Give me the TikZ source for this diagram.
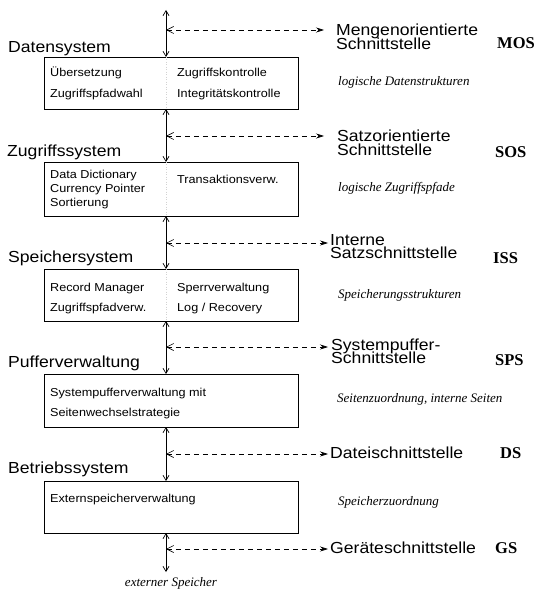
\documentclass[tikz,border=0pt]{standalone}
\usepackage{fontspec}
\setmainfont{Liberation Sans}[FakeStretch=1.1]
\newfontfamily\timesfont{Liberation Serif}
\usetikzlibrary{arrows.meta}
% two stacked lines, baseline of the node on the first line
\newcommand{\twoline}[2]{\vtop{\baselineskip=13.5pt\lineskiplimit=-20pt\hbox{#1}\hbox{#2}}}
\begin{document}
\begin{tikzpicture}[x=1pt,y=-1pt,
  layer/.style={draw, line width=0.8pt, anchor=north west, minimum width=254pt, inner sep=0pt, outer sep=0pt},
  boxtxt/.style={anchor=base west, inner sep=0pt, font=\fontsize{11.5}{13}\selectfont},
  syslabel/.style={anchor=base west, inner sep=0pt, font=\fontsize{16}{14}\selectfont},
  abbr/.style={anchor=base west, inner sep=0pt, font=\timesfont\bfseries\fontsize{16.5}{18}\selectfont},
  note/.style={anchor=base west, inner sep=0pt, font=\timesfont\itshape\fontsize{13}{15}\selectfont},
  flow/.style={line width=0.7pt, {Straight Barb[length=5pt,width=6pt]}-{Straight Barb[length=5pt,width=6pt]}},
  iface/.style={line width=0.6pt, dash pattern=on 5pt off 4pt, {Straight Barb[length=7pt,width=7pt]}-{Stealth[length=8pt,width=5pt]}},
  divider/.style={gray!35, dotted, line width=0.5pt}
]
\useasboundingbox[fill=white] (0,0) rectangle (537,593);

% axis of the layer stack
\coordinate (ax) at (166,0);

% layer boxes
\node[layer, minimum height=52pt] (b1) at (44,57) {};
\node[layer, minimum height=54pt] (b2) at (44,162) {};
\node[layer, minimum height=52pt] (b3) at (44,269) {};
\node[layer, minimum height=53pt] (b4) at (44,374) {};
\node[layer, minimum height=52pt] (b5) at (44,481) {};

% faint column dividers
\draw[divider] (b1.north -| ax) -- (b1.south -| ax);
\draw[divider] (b2.north -| ax) -- (b2.south -| ax);
\draw[divider] (b3.north -| ax) -- (b3.south -| ax);

% layer names
\node[syslabel] (n1) at (8,53) {Datensystem};
\node[syslabel] (n2) at (7,157) {Zugriffssystem};
\node[syslabel] (n3) at (8,262) {Speichersystem};
\node[syslabel] (n4) at (8,367) {Pufferverwaltung};
\node[syslabel] (n5) at (8,473) {Betriebssystem};

% box contents
\node[boxtxt] (t11) at (50,77) {Übersetzung};
\node[boxtxt] (t12) at (50,98) {Zugriffspfadwahl};
\node[boxtxt] (t13) at (177,77) {Zugriffskontrolle};
\node[boxtxt] (t14) at (177,98) {Integritätskontrolle};

\node[boxtxt] (t21) at (50,179) {Data Dictionary};
\node[boxtxt] (t22) at (50,193) {Currency Pointer};
\node[boxtxt] (t23) at (50,207) {Sortierung};
\node[boxtxt] (t24) at (177,184) {Transaktionsverw.};

\node[boxtxt] (t31) at (50,291) {Record Manager};
\node[boxtxt] (t32) at (50,311) {Zugriffspfadverw.};
\node[boxtxt] (t33) at (177,291) {Sperrverwaltung};
\node[boxtxt] (t34) at (177,311) {Log / Recovery};

\node[boxtxt] (t41) at (50,396) {Systempufferverwaltung mit};
\node[boxtxt] (t42) at (50,416) {Seitenwechselstrategie};

\node[boxtxt] (t51) at (50,502) {Externspeicherverwaltung};

% vertical data flow
\coordinate (top) at (166,10);
\coordinate (bot) at (166,572);
\draw[flow] (top) -- (b1.north -| ax);
\draw[flow] (b1.south -| ax) -- (b2.north -| ax);
\draw[flow] (b2.south -| ax) -- (b3.north -| ax);
\draw[flow] (b3.south -| ax) -- (b4.north -| ax);
\draw[flow] (b4.south -| ax) -- (b5.north -| ax);
\draw[flow] (b5.south -| ax) -- (bot);

% interface arrows
\coordinate (i1) at (166,30);  \coordinate (e1) at (324,30);
\coordinate (i2) at (166,136); \coordinate (e2) at (324,136);
\coordinate (i3) at (166,243); \coordinate (e3) at (328,243);
\coordinate (i4) at (166,347); \coordinate (e4) at (328,347);
\coordinate (i5) at (166,454); \coordinate (e5) at (328,454);
\coordinate (i6) at (166,549); \coordinate (e6) at (328,549);
\draw[iface] (i1) -- (e1);
\draw[iface] (i2) -- (e2);
\draw[iface] (i3) -- (e3);
\draw[iface] (i4) -- (e4);
\draw[iface] (i5) -- (e5);
\draw[iface] (i6) -- (e6);

% interface names
\node[syslabel] (s1) at (336,36) {\twoline{Mengenorientierte}{Schnittstelle}};
\node[syslabel] (s2) at (337,142) {\twoline{Satzorientierte}{Schnittstelle}};
\node[syslabel] (s3) at (330,245) {\twoline{Interne}{Satzschnittstelle}};
\node[syslabel] (s4) at (331,350) {\twoline{Systempuffer-}{Schnittstelle}};
\node[syslabel] (s5) at (330,458) {Dateischnittstelle};
\node[syslabel] (s6) at (330,553) {Geräteschnittstelle};

% abbreviations
\node[abbr] (a1) at (497,49) {MOS};
\node[abbr] (a2) at (495,158) {SOS};
\node[abbr] (a3) at (493,263) {ISS};
\node[abbr] (a4) at (495,365) {SPS};
\node[abbr] (a5) at (500,458) {DS};
\node[abbr] (a6) at (495,553) {GS};

% objects handled at each layer
\node[note] (o1) at (338,86) {logische Datenstrukturen};
\node[note] (o2) at (338,192) {logische Zugriffspfade};
\node[note] (o3) at (338,298) {Speicherungsstrukturen};
\node[note] (o4) at (337,402) {Seitenzuordnung, interne Seiten};
\node[note] (o5) at (338,505) {Speicherzuordnung};
\node[note, anchor=base] (o6) at (171,586) {externer Speicher};
\end{tikzpicture}
\end{document}
